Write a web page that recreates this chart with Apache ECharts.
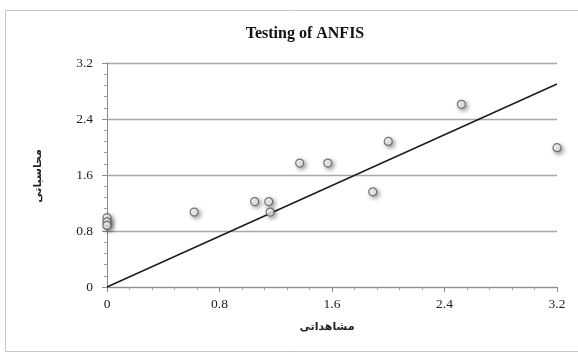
<!DOCTYPE html>
<html>
<head>
<meta charset="utf-8">
<script src="https://cdn.jsdelivr.net/npm/echarts@6/dist/echarts.min.js"></script>
<style>
  html, body { margin: 0; padding: 0; background: #fff; }
  #chart { width: 578px; height: 354px; }
</style>
</head>
<body>
<div id="chart"></div>
<script>
// Observed vs. computed values for the ANFIS test set
var observed = [0, 0, 0, 0.62, 1.05, 1.15, 1.16, 1.37, 1.57, 1.89, 2.0, 2.52, 3.2];
var computed = [0.99, 0.93, 0.88, 1.07, 1.22, 1.22, 1.07, 1.77, 1.77, 1.36, 2.08, 2.61, 1.99];

// Fitted reference line endpoints
var lineX = [0, 3.2];
var lineY = [0, 2.9];

var axisTicks = [0, 0.8, 1.6, 2.4, 3.2];

var titleText = 'Testing of ANFIS';
var xTitle = 'مشاهداتی';
var yTitle = 'محاسباتی';

var font = '"Liberation Serif", "DejaVu Serif", "DejaVu Sans", serif';
var arabicFont = '"DejaVu Sans", "Noto Sans", sans-serif';

var points = observed.map(function (x, i) { return [x, computed[i]]; });
var linePts = lineX.map(function (x, i) { return [x, lineY[i]]; });

var chart = echarts.init(document.getElementById('chart'), null, { renderer: 'canvas' });

var axisCommon = {
  type: 'value',
  min: axisTicks[0],
  max: axisTicks[axisTicks.length - 1],
  interval: 0.8,
  axisLine: { show: true, lineStyle: { color: '#8c8c8c', width: 1 } },
  axisTick: { show: true, length: 5, lineStyle: { color: '#8c8c8c' } },
  minorTick: { show: true, splitNumber: 5, length: 3, lineStyle: { color: '#a0a0a0' } },
  axisLabel: {
    color: '#222', fontFamily: font, fontSize: 13.5,
    formatter: function (v) { return String(+v.toFixed(1)); }
  }
};

chart.setOption({
  animation: false,
  backgroundColor: '#fff',
  graphic: [
    {
      type: 'rect',
      shape: { x: 5.5, y: 10.5, width: 590, height: 341 },
      style: { fill: 'none', stroke: '#c4c4c4', lineWidth: 1 },
      z: -1
    },
    {
      type: 'text',
      x: 327, y: 327,
      style: {
        text: xTitle, fontFamily: arabicFont, fontSize: 11, fontWeight: 'bold', fill: '#222',
        align: 'center', verticalAlign: 'middle'
      }
    },
    {
      type: 'text',
      x: 38, y: 176,
      rotation: Math.PI / 2,
      style: {
        text: yTitle, fontFamily: arabicFont, fontSize: 11, fontWeight: 'bold', fill: '#222',
        align: 'center', verticalAlign: 'middle'
      }
    }
  ],
  title: {
    text: titleText,
    left: 300, top: 21, textAlign: 'center',
    textStyle: { fontFamily: font, fontSize: 16, fontWeight: 'bold', color: '#111' }
  },
  grid: { left: 107, right: 21, top: 63, bottom: 67 },
  xAxis: Object.assign({}, axisCommon, {
    splitLine: { show: false },
    axisLabel: Object.assign({}, axisCommon.axisLabel, { margin: 10 })
  }),
  yAxis: Object.assign({}, axisCommon, {
    splitLine: { show: true, lineStyle: { color: '#a8a8a8', width: 1.3 } },
    axisLabel: Object.assign({}, axisCommon.axisLabel, { margin: 14 })
  }),
  series: [
    {
      type: 'line',
      data: linePts,
      symbol: 'none',
      lineStyle: { color: '#1a1a1a', width: 1.4 },
      z: 2
    },
    {
      type: 'scatter',
      data: points,
      symbol: 'circle',
      symbolSize: 8,
      itemStyle: {
        color: '#ffffff',
        borderColor: '#555',
        borderWidth: 1.2,
        shadowBlur: 4,
        shadowOffsetX: 2,
        shadowOffsetY: 2,
        shadowColor: 'rgba(0,0,0,0.45)'
      },
      z: 3
    }
  ]
});
</script>
</body>
</html>
